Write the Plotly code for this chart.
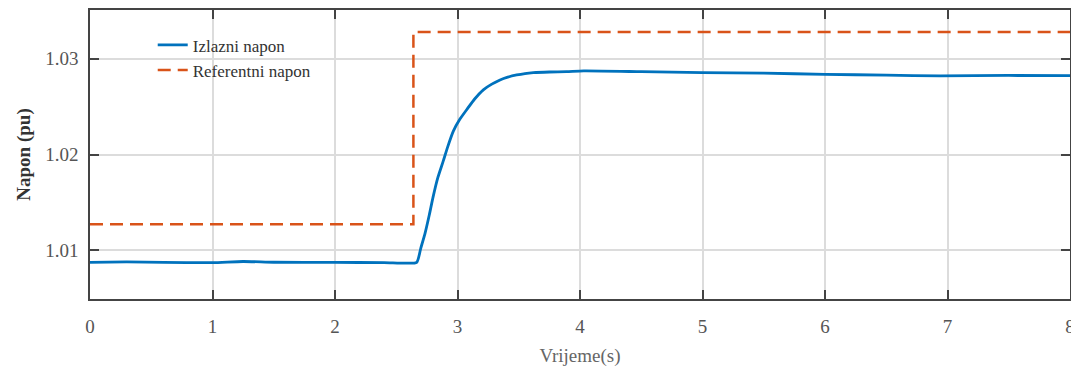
import plotly.graph_objects as go

# Output voltage
t_out = [0, 0.3, 0.6, 1.0, 1.25, 1.5, 2.0, 2.4, 2.58, 2.667, 2.70, 2.735, 2.77, 2.80, 2.84, 2.884,
         2.92, 2.966, 3.02, 3.075, 3.14, 3.211, 3.28, 3.347, 3.41, 3.483, 3.55, 3.619, 3.75,
         3.89, 4.03, 4.5, 5.0, 5.5, 6.0, 6.5, 6.94, 7.5, 8.0]
v_out = [1.00873, 1.00878, 1.00872, 1.00870, 1.00882, 1.00874, 1.00872, 1.00870, 1.00864, 1.00873,
         1.01020, 1.01176, 1.01370, 1.01552, 1.01760, 1.01933, 1.02080, 1.02244, 1.02370,
         1.02468, 1.02580, 1.02676, 1.02735, 1.02779, 1.02808, 1.02831, 1.02846, 1.02855, 1.02862,
         1.02865, 1.02873, 1.02865, 1.02855, 1.02850, 1.02837, 1.02830, 1.02821, 1.02826, 1.02824]

# Reference voltage
t_ref = [0, 2.64, 2.64, 8]
v_ref = [1.0127, 1.0127, 1.0328, 1.0328]

x_ticks = [0, 1, 2, 3, 4, 5, 6, 7, 8]
y_ticks = [1.01, 1.02, 1.03]

FONT = "Liberation Serif"

fig = go.Figure()
fig.add_trace(go.Scatter(x=t_out, y=v_out, mode="lines", name="Izlazni napon",
                         line=dict(color="#0072BD", width=2.8, shape="spline", smoothing=0.6)))
fig.add_trace(go.Scatter(x=t_ref, y=v_ref, mode="lines", name="Referentni napon",
                         line=dict(color="#D95319", width=2.5, dash="13px,7px")))

axis_common = dict(
    showline=True, linecolor="#444", linewidth=1.5, mirror="ticks",
    ticks="inside", ticklen=9, tickwidth=1.5, tickcolor="#444",
    showgrid=True, gridcolor="#dcdcdc", gridwidth=1.5, zeroline=False,
    tickfont=dict(family=FONT, size=19, color="#555"),
)

fig.update_layout(
    width=1071, height=359,
    margin=dict(l=82, r=9, t=0, b=68),
    paper_bgcolor="white", plot_bgcolor="white",
    showlegend=True,
    legend=dict(x=0.064, y=0.94, xanchor="left", yanchor="top",
                bgcolor="rgba(0,0,0,0)", font=dict(family=FONT, size=17, color="#333"),
                tracegroupgap=0),
    xaxis=dict(range=[0, 8], tickvals=x_ticks, ticktext=[str(v) for v in x_ticks],
               ticklabelstandoff=9,
               title=dict(text="Vrijeme(s)", font=dict(family=FONT, size=19, color="#666"), standoff=13),
               **axis_common),
    yaxis=dict(range=[1.0049, 1.0351], tickvals=y_ticks, ticktext=["1.01", "1.02", "1.03"],
               ticklabelstandoff=6,
               title=dict(text="<b>Napon (pu)</b>", font=dict(family=FONT, size=19, color="#333"), standoff=10),
               **axis_common),
)

fig.write_html("out.html")
